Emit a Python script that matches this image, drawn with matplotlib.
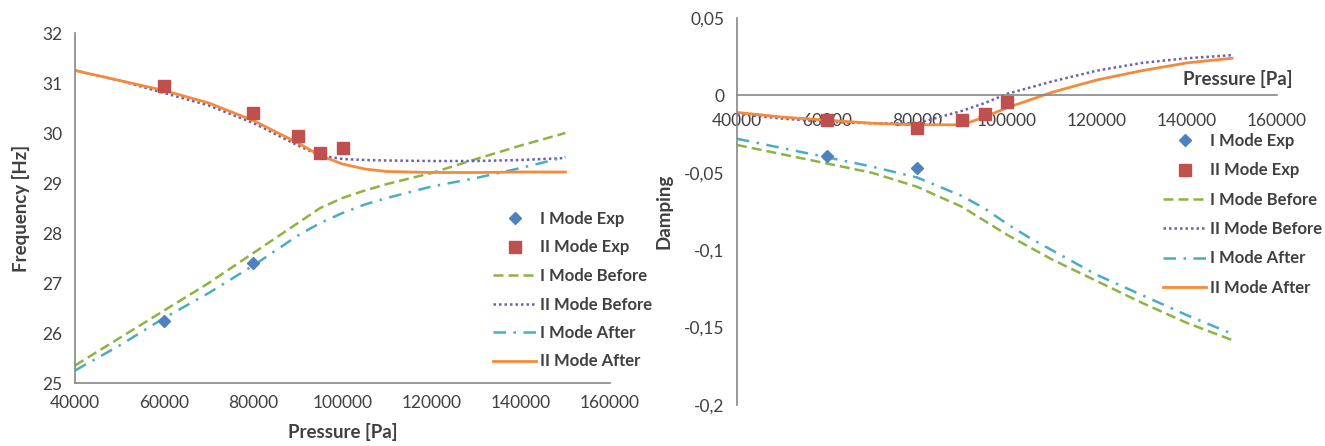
import matplotlib
matplotlib.use("Agg")
import matplotlib.pyplot as plt
from matplotlib.ticker import FuncFormatter

plt.rcParams['font.family'] = ['Lato', 'DejaVu Sans']

# ---------------- data: frequency ----------------
p_exp_I = [60000, 80000]
f_exp_I = [26.25, 27.4]
p_exp_II = [60000, 80000, 90000, 95000, 100000]
f_exp_II = [30.95, 30.4, 29.95, 29.6, 29.7]

p_model = [40000, 50000, 60000, 70000, 80000, 90000, 95000, 100000, 105000,
           110000, 120000, 130000, 140000, 150000]
f_I_before = [25.35, 25.9, 26.45, 27.0, 27.6, 28.2, 28.5, 28.7, 28.85,
              28.98, 29.2, 29.48, 29.75, 30.0]
f_II_before = [31.25, 31.05, 30.8, 30.55, 30.2, 29.75, 29.55, 29.48, 29.46,
               29.45, 29.44, 29.44, 29.46, 29.5]
f_I_after = [25.25, 25.75, 26.3, 26.8, 27.35, 27.95, 28.2, 28.4, 28.57,
             28.7, 28.93, 29.1, 29.3, 29.52]
f_II_after = [31.25, 31.05, 30.85, 30.6, 30.25, 29.8, 29.55, 29.38, 29.28,
              29.23, 29.21, 29.21, 29.22, 29.22]

# ---------------- data: damping ----------------
d_exp_I = [-0.039, -0.047]
d_exp_II = [-0.016, -0.021, -0.016, -0.012, -0.004]
d_I_before = [-0.032, -0.038, -0.044, -0.050, -0.059, -0.072, -0.081, -0.090,
              -0.098, -0.106, -0.120, -0.134, -0.147, -0.158]
d_II_before = [-0.012, -0.015, -0.017, -0.018, -0.018, -0.010, -0.005, 0.001,
               0.005, 0.009, 0.016, 0.021, 0.024, 0.026]
d_I_after = [-0.028, -0.034, -0.040, -0.046, -0.053, -0.065, -0.073, -0.083,
             -0.092, -0.100, -0.116, -0.129, -0.142, -0.154]
d_II_after = [-0.011, -0.014, -0.016, -0.018, -0.019, -0.019, -0.014, -0.008,
              -0.003, 0.002, 0.010, 0.016, 0.021, 0.024]

labels = ["I Mode Exp", "II Mode Exp", "I Mode Before", "II Mode Before",
          "I Mode After", "II Mode After"]

C_BLUE = '#4F81BD'
C_RED = '#C0504D'
C_GREEN = '#8DB443'
C_PURPLE = '#6A5FB5'
C_CYAN = '#4BACC6'
C_ORANGE = '#F58A3A'
TXT = '#404040'
SPINE = '#868686'

fig = plt.figure(figsize=(13.25, 4.46), dpi=100)
ax1 = fig.add_axes([75/1325, 1-383/446, 535/1325, 350/446])
ax2 = fig.add_axes([737/1325, 1-405/446, 540/1325, 387/446])


def draw(ax, yI_exp, yII_exp, yIb, yIIb, yIa, yIIa):
    h = []
    h.append(ax.plot(p_exp_I, yI_exp, 'D', color=C_BLUE, ms=6, zorder=5)[0])
    h.append(ax.plot(p_exp_II, yII_exp, 's', color=C_RED, ms=8, zorder=5)[0])
    h.append(ax.plot(p_model, yIb, color=C_GREEN, lw=1.8, ls=(0, (4, 2)))[0])
    h.append(ax.plot(p_model, yIIb, color=C_PURPLE, lw=1.8, ls=(0, (1, 1.2)))[0])
    h.append(ax.plot(p_model, yIa, color=C_CYAN, lw=1.8, ls=(0, (5, 3, 1, 3)))[0])
    h.append(ax.plot(p_model, yIIa, color=C_ORANGE, lw=2.0, ls='-')[0])
    return h


h1 = draw(ax1, f_exp_I, f_exp_II, f_I_before, f_II_before, f_I_after, f_II_after)
h2 = draw(ax2, d_exp_I, d_exp_II, d_I_before, d_II_before, d_I_after, d_II_after)

# ---- left axes styling ----
ax1.set_xlim(40000, 160000)
ax1.set_ylim(25, 32)
ax1.set_xticks(range(40000, 160001, 20000))
ax1.set_yticks(range(25, 33))
for s in ['top', 'right']:
    ax1.spines[s].set_visible(False)
for s in ['left', 'bottom']:
    ax1.spines[s].set_color(SPINE)
    ax1.spines[s].set_linewidth(1.2)
ax1.tick_params(length=0, labelsize=12.5, labelcolor=TXT)
ax1.tick_params(axis='x', pad=9)
ax1.tick_params(axis='y', pad=9)
ax1.set_xlabel("Pressure [Pa]", fontsize=13.5, fontweight='bold', color=TXT, labelpad=8)
ax1.set_ylabel("Frequency [Hz]", fontsize=13.5, fontweight='bold', color=TXT, labelpad=9)
fig.legend(h1, labels, loc='upper left', bbox_to_anchor=(478/1325, 1-196/446),
           frameon=False, handlelength=2.6, handletextpad=0.2,
           labelspacing=0.75, labelcolor=TXT, prop={'weight': 'bold', 'size': 12})

# ---- right axes styling ----
ax2.set_xlim(40000, 160000)
ax2.set_ylim(-0.2, 0.05)
ax2.set_xticks(range(40000, 160001, 20000))
ax2.set_yticks([-0.2, -0.15, -0.1, -0.05, 0, 0.05])
ax2.yaxis.set_major_formatter(FuncFormatter(
    lambda v, pos: ('%g' % round(v, 3)).replace('.', ',')))
ax2.spines['bottom'].set_position(('data', 0))
for s in ['top', 'right']:
    ax2.spines[s].set_visible(False)
for s in ['left', 'bottom']:
    ax2.spines[s].set_color(SPINE)
    ax2.spines[s].set_linewidth(1.2)
ax2.tick_params(length=0, labelsize=12.5, labelcolor=TXT)
ax2.tick_params(axis='x', pad=13)
ax2.tick_params(axis='y', pad=9)
ax2.set_ylabel("Damping", fontsize=13.5, fontweight='bold', color=TXT, labelpad=8)
ax2.text(1.028, 0.0105, "Pressure [Pa]", transform=ax2.get_yaxis_transform(),
         ha='right', va='center', fontsize=13.5, fontweight='bold', color=TXT)
fig.legend(h2, labels, loc='upper left', bbox_to_anchor=(1148/1325, 1-118/446),
           frameon=False, handlelength=2.6, handletextpad=0.2,
           labelspacing=0.8, labelcolor=TXT, prop={'weight': 'bold', 'size': 12})

fig.savefig("out.png", dpi=100)
